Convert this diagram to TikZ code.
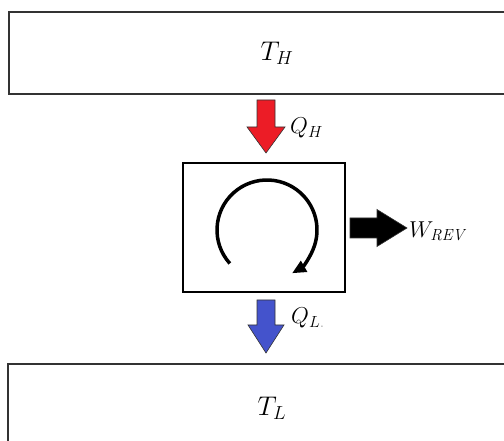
\RequirePackage{fix-cm}
\documentclass[tikz,border=0pt]{standalone}
\usepackage{tikz}
\usetikzlibrary{arrows.meta}
\definecolor{hotred}{HTML}{EC1C26}
\definecolor{coldblue}{HTML}{4453CC}
\definecolor{framegray}{HTML}{333333}

\tikzset{
  reservoir/.style={draw=framegray,line width=1.5pt,minimum height=#1,
    font=\fontsize{27}{32}\selectfont},
  engine/.style={draw,line width=1.1pt,minimum width=162pt,minimum height=129pt},
  flowlabel/.style={anchor=west,inner sep=0pt,font=\fontsize{23}{28}\selectfont},
  blockarrow/.style={draw=black!80,line width=0.6pt,fill=#1}
}

\begin{document}
\begin{tikzpicture}[x=1pt,y=1pt]
  \clip (0,0) rectangle (504,441);
  % reservoirs and the engine
  \node[reservoir=82pt,minimum width=536pt] (hot) at (277,388) {$T_H$};
  \node[reservoir=88pt,minimum width=528pt] (cold) at (272,33) {$T_L$};
  \node[engine] (engine) at (264,213.5) {};
  % heat in
  \coordinate (qhtail) at (266,341);
  \draw[blockarrow=hotred,shift={(qhtail)}]
    (-9,0) -- (-9,-27) -- (-19,-27) -- (0,-53) -- (19,-27) -- (9,-27) -- (9,0) -- cycle;
  \node[flowlabel] (qh) at (290,313) {$Q_H$};
  % heat out
  \coordinate (qltail) at (266,141);
  \draw[blockarrow=coldblue,shift={(qltail)}]
    (-9,0) -- (-9,-25) -- (-18,-25) -- (0,-53) -- (18,-25) -- (9,-25) -- (9,0) -- cycle;
  \node[flowlabel] (ql) at (291,123) {$Q_{L{\color{black!35}.}}$};
  % work
  \coordinate (wtail) at (350,213);
  \draw[blockarrow=black,shift={(wtail)}]
    (0,10) -- (27,10) -- (27,18.5) -- (57,0) -- (27,-18.5) -- (27,-10) -- (0,-10) -- cycle;
  \node[flowlabel] (w) at (409,210) {$W_{\mathit{REV}}$};
  % the cycle
  \coordinate (c) at (267,211);
  \draw[line width=3.5pt,-{Triangle[length=14pt,width=12pt]}]
    (c) ++(222:50) arc[start angle=222,end angle=-60,radius=50];
\end{tikzpicture}
\end{document}
